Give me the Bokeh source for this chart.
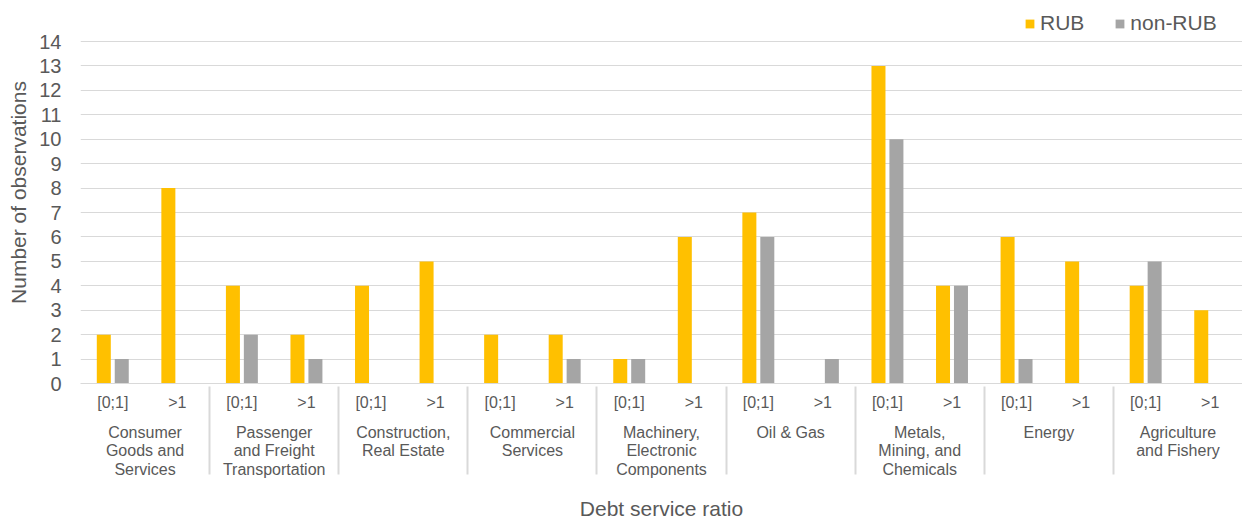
from bokeh.plotting import figure
from bokeh.models import (FactorRange, ColumnDataSource, Legend, LegendItem,
                          FixedTicker, Range1d)
from bokeh.transform import dodge
from bokeh.embed import file_html
from bokeh.resources import INLINE

# ---------------- data ----------------
sectors = [
    "Consumer\nGoods and\nServices",
    "Passenger\nand Freight\nTransportation",
    "Construction,\nReal Estate",
    "Commercial\nServices",
    "Machinery,\nElectronic\nComponents",
    "Oil & Gas",
    "Metals,\nMining, and\nChemicals",
    "Energy",
    "Agriculture\nand Fishery",
]
ratios = ["[0;1]", ">1"]
rub_0_1 = [2, 4, 4, 2, 1, 7, 13, 6, 4]
rub_gt1 = [8, 2, 5, 2, 6, 0, 4, 5, 3]
nonrub_0_1 = [1, 2, 0, 0, 1, 6, 10, 1, 5]
nonrub_gt1 = [0, 1, 0, 1, 0, 1, 4, 0, 0]
y_ticks = list(range(0, 15))

series_names = ["RUB", "non-RUB"]
colors = ["#FFC000", "#A5A5A5"]

# ---------------- build ----------------
factors = [(s, r) for s in sectors for r in ratios]
rub = [v for pair in zip(rub_0_1, rub_gt1) for v in pair]
non = [v for pair in zip(nonrub_0_1, nonrub_gt1) for v in pair]
src = ColumnDataSource(dict(x=factors, rub=rub, non=non))

FONT = "Liberation Sans"
TXT = "#595959"
GRID = "#D9D9D9"

p = figure(
    x_range=FactorRange(*factors, factor_padding=0, group_padding=0, range_padding=0),
    y_range=Range1d(0, 15.64),
    width=1242, height=522,
    output_backend="svg", toolbar_location=None,
    min_border_top=1, min_border_right=0, min_border_left=80, min_border_bottom=0,
)
p.outline_line_color = None
p.background_fill_color = "white"
p.border_fill_color = "white"

r1 = p.vbar(x=dodge("x", -0.139, range=p.x_range), top="rub", width=0.217,
            source=src, fill_color=colors[0], line_color=None)
r2 = p.vbar(x=dodge("x", 0.139, range=p.x_range), top="non", width=0.217,
            source=src, fill_color=colors[1], line_color=None)

# y axis
p.yaxis.ticker = FixedTicker(ticks=y_ticks)
p.yaxis.axis_line_color = None
p.yaxis.major_tick_line_color = None
p.yaxis.minor_tick_line_color = None
p.yaxis.major_tick_out = 0
p.yaxis.major_label_standoff = 19
p.yaxis.major_label_text_font = FONT
p.yaxis.major_label_text_font_size = "20px"
p.yaxis.major_label_text_color = TXT
p.yaxis.axis_label = "Number of observations"
p.yaxis.axis_label_text_font = FONT
p.yaxis.axis_label_text_font_size = "21px"
p.yaxis.axis_label_text_font_style = "normal"
p.yaxis.axis_label_text_color = TXT
p.yaxis.axis_label_standoff = 6

# x axis
xa = p.xaxis[0]
xa.axis_line_color = GRID
xa.axis_line_width = 1
xa.major_tick_line_color = None
xa.minor_tick_line_color = None
xa.major_tick_out = 0
xa.separator_line_color = GRID
xa.separator_line_width = 2
xa.major_label_standoff = 10
xa.major_label_text_font = FONT
xa.major_label_text_font_size = "16px"
xa.major_label_text_color = TXT
xa.group_text_font = FONT
xa.group_text_font_size = "16px"
xa.group_text_font_style = "normal"
xa.group_text_color = TXT
xa.group_text_line_height = 1.1
xa.axis_label = "Debt service ratio"
xa.axis_label_text_font = FONT
xa.axis_label_text_font_size = "21px"
xa.axis_label_text_font_style = "normal"
xa.axis_label_text_color = TXT
xa.axis_label_standoff = 16

p.xgrid.grid_line_color = None
p.ygrid.grid_line_color = GRID
p.ygrid.grid_line_width = 1

legend = Legend(
    items=[LegendItem(label=series_names[0], renderers=[r1]),
           LegendItem(label=series_names[1], renderers=[r2])],
    orientation="horizontal", location=(944, 348),
    glyph_width=11, glyph_height=11, label_standoff=5, spacing=30,
    label_text_font=FONT, label_text_font_size="21px", label_text_color=TXT,
    border_line_color=None, background_fill_alpha=0, padding=0, margin=0,
)
p.add_layout(legend)

open("out.html", "w").write(file_html(p, INLINE))
